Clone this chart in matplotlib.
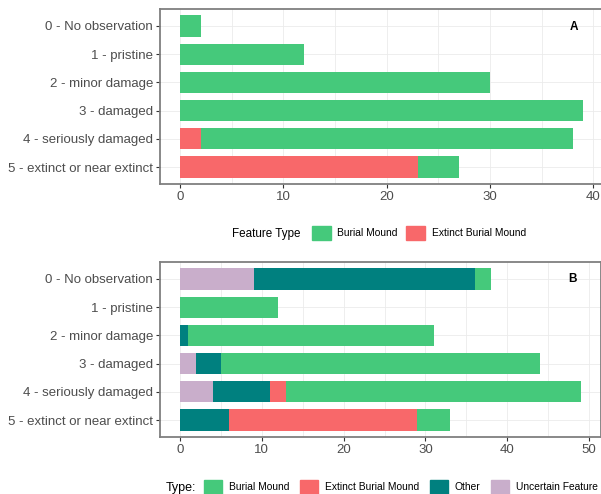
import numpy as np
import matplotlib
matplotlib.use("Agg")
import matplotlib.pyplot as plt
from matplotlib.patches import Patch

plt.rcParams['font.family'] = ['Liberation Sans', 'DejaVu Sans']

categories = ["0 - No observation", "1 - pristine", "2 - minor damage",
              "3 - damaged", "4 - seriously damaged", "5 - extinct or near extinct"]

# panel A: mound counts by condition
a_extinct = [0, 0, 0, 0, 2, 23]
a_burial = [2, 12, 30, 39, 36, 4]

# panel B: all features by condition
b_uncertain = [9, 0, 0, 2, 4, 0]
b_other = [27, 0, 1, 3, 7, 6]
b_extinct = [0, 0, 0, 0, 2, 23]
b_burial = [2, 12, 30, 39, 36, 4]

GREEN = "#45c97b"
RED = "#f8686a"
TEAL = "#00807f"
LILAC = "#c9aecb"
TICK_GREY = "#4d4d4d"

W, H = 601, 494
fig = plt.figure(figsize=(W / 100, H / 100), dpi=100)


def px_axes(left, top, right, bottom):
    return fig.add_axes([left / W, (H - bottom) / H, (right - left) / W, (bottom - top) / H])


def style(ax, xmax, xticks, minor):
    n = len(categories)
    ax.set_ylim(n - 1 + 0.6, -0.6)
    ax.set_xlim(-0.05 * xmax, xmax * 1.05)
    ax.set_yticks(range(n))
    ax.set_yticklabels(categories)
    ax.set_xticks(xticks)
    ax.set_xticks(minor, minor=True)
    ax.grid(True, which='both', color='#ebebeb', lw=0.6)
    ax.set_axisbelow(True)
    ax.tick_params(axis='both', which='major', labelsize=9.5, labelcolor=TICK_GREY,
                   color='#333333', length=3, width=0.8, pad=2)
    ax.tick_params(axis='x', which='minor', length=0)
    for s in ax.spines.values():
        s.set_color('#7f7f7f')
        s.set_linewidth(1.3)


def key_legend(handles, x, yc, ncol, colsp=0.85):
    return fig.legend(handles=handles, loc='center left', bbox_to_anchor=(x / W, 1 - yc / H),
                      ncol=ncol, frameon=False, fontsize=7.4, handlelength=1.8,
                      handleheight=1.8, handletextpad=0.65, columnspacing=colsp,
                      borderpad=0, borderaxespad=0)


y = np.arange(len(categories))
bw = 0.75

# --- A ---
axA = px_axes(160, 9, 603, 184)
left = np.zeros(len(categories))
for vals, col in [(a_extinct, RED), (a_burial, GREEN)]:
    axA.barh(y, vals, left=left, height=bw, color=col, lw=0)
    left += np.array(vals)
style(axA, left.max(), [0, 10, 20, 30, 40], [5, 15, 25, 35])
axA.text(0.935, 0.9, "A", transform=axA.transAxes, fontsize=8.5, fontweight='bold',
         ha='center', va='center')

fig.text(232 / W, 1 - 234 / H, "Feature Type", fontsize=8.4, va='center', ha='left')
key_legend([Patch(color=GREEN, label="Burial Mound"),
            Patch(color=RED, label="Extinct Burial Mound")], 312, 233, 2)

# --- B ---
axB = px_axes(160, 262, 601, 437)
left = np.zeros(len(categories))
for vals, col in [(b_uncertain, LILAC), (b_other, TEAL), (b_extinct, RED), (b_burial, GREEN)]:
    axB.barh(y, vals, left=left, height=bw, color=col, lw=0)
    left += np.array(vals)
style(axB, left.max(), [0, 10, 20, 30, 40, 50], [5, 15, 25, 35, 45])
axB.text(0.935, 0.9, "B", transform=axB.transAxes, fontsize=8.5, fontweight='bold',
         ha='center', va='center')

fig.text(166 / W, 1 - 488 / H, "Type:", fontsize=9, va='center', ha='left')
key_legend([Patch(color=GREEN, label="Burial Mound"),
            Patch(color=RED, label="Extinct Burial Mound"),
            Patch(color=TEAL, label="Other"),
            Patch(color=LILAC, label="Uncertain Feature")], 204, 487, 4, colsp=1.0)

fig.savefig("out.png", dpi=100)
